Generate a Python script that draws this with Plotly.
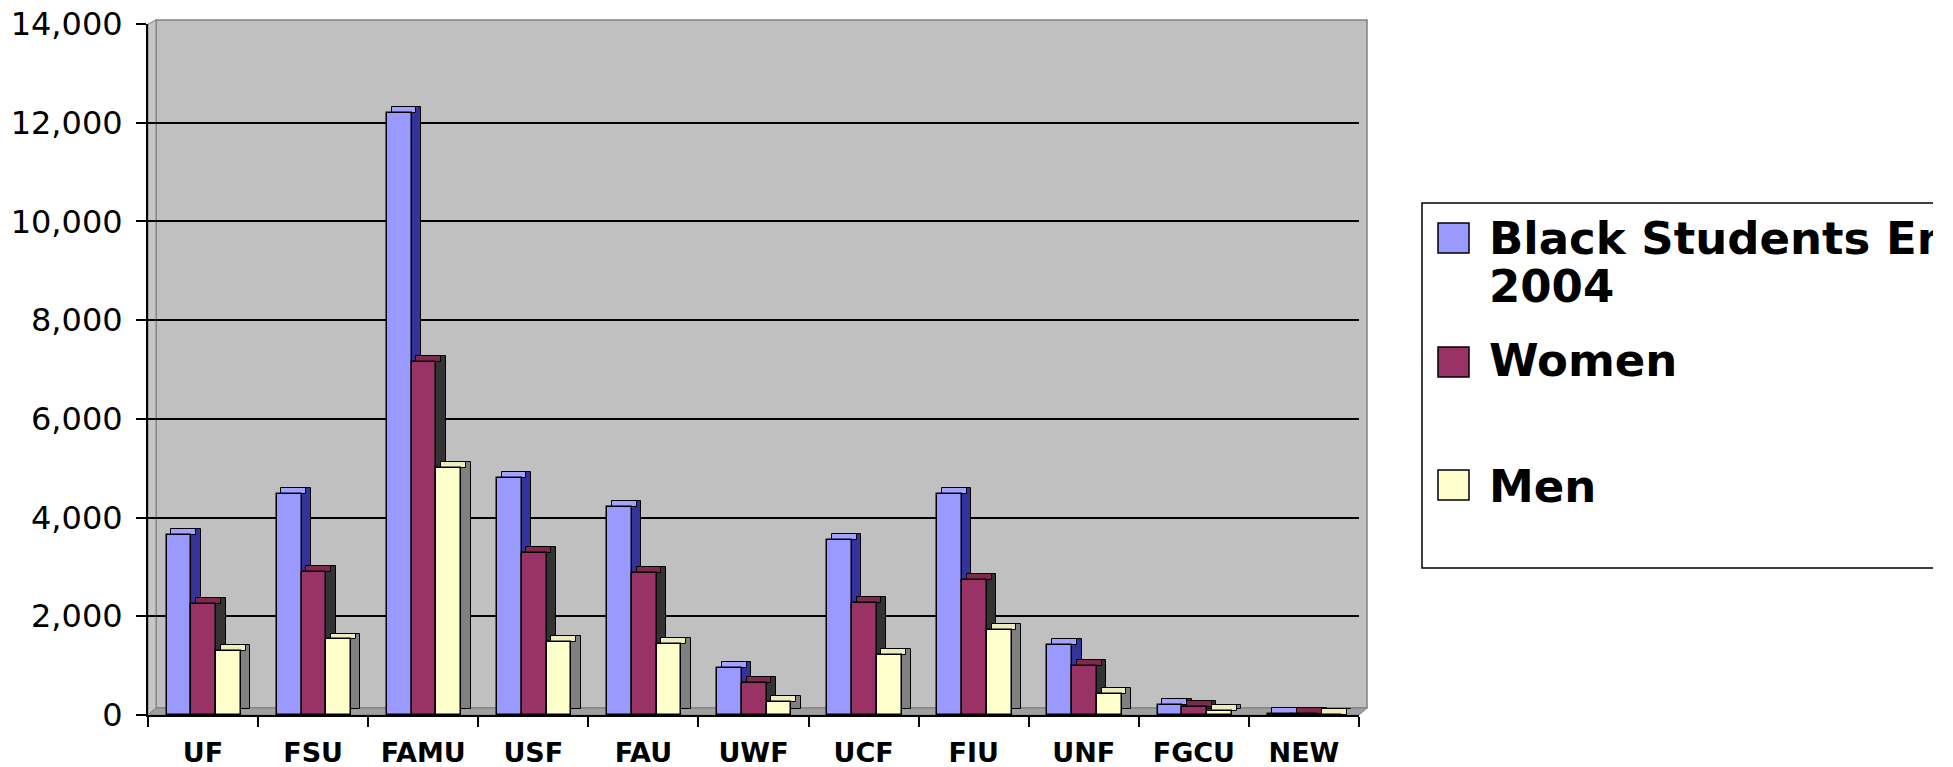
import plotly.graph_objects as go

# ---- data ----
campuses = ["UF", "FSU", "FAMU", "USF", "FAU", "UWF", "UCF", "FIU", "UNF", "FGCU", "NEW"]
black_students_2004 = [3650, 4480, 12200, 4800, 4210, 950, 3540, 4470, 1420, 200, 20]
women = [2250, 2900, 7150, 3280, 2870, 650, 2270, 2730, 1000, 170, 12]
men = [1300, 1530, 5000, 1480, 1440, 270, 1220, 1720, 430, 90, 8]
series_names = ["Black Students Enrolled", "Women", "Men"]
y_ticks = [0, 2000, 4000, 6000, 8000, 10000, 12000, 14000]

# ---- layout geometry (pixels, in reference-image coordinates) ----
OFF = 8                    # page body margin added by the browser
W, H = 1933 - OFF, 767 - OFF
L, R = 148, 1359           # plot area left / right
T, B = 24, 715             # plot area top / bottom
PW, PH = R - L, B - T

def xp(px):
    return (px - L) / PW

def yp(py):
    return (B - py) / PH

# 3D look parameters
bar_w = 0.225
offsets = [-0.33, -0.105, 0.12]
dx = 0.085                     # depth in category units
dy = 120                       # depth in value units
front_cols = ["#9999FF", "#993366", "#FFFFCC"]
side_cols = ["#333399", "#333333", "#808080"]
top_cols = ["#A3A3FF", "#80294F", "#EDEDC0"]
values = [black_students_2004, women, men]

fig = go.Figure()
n = len(campuses)
for vals, o, fc, sc, tc, name in zip(values, offsets, front_cols, side_cols, top_cols, series_names):
    # side face
    fig.add_trace(go.Bar(x=campuses, y=vals, base=[dy] * n, offset=o + bar_w, width=dx,
                         marker=dict(color=sc, line=dict(color="black", width=1)),
                         showlegend=False, hoverinfo="skip"))
    # top face
    fig.add_trace(go.Bar(x=campuses, y=[dy] * n, base=vals, offset=o + dx / 2, width=bar_w,
                         marker=dict(color=tc, line=dict(color="black", width=1)),
                         showlegend=False, hoverinfo="skip"))
    # front face
    fig.add_trace(go.Bar(x=campuses, y=vals, offset=o, width=bar_w, name=name,
                         marker=dict(color=fc, line=dict(color="black", width=1.5)),
                         showlegend=False))

shapes = []
# back wall
shapes.append(dict(type="rect", xref="paper", yref="paper", layer="below",
                   x0=xp(156), x1=xp(1367), y0=yp(708), y1=yp(20),
                   fillcolor="#C0C0C0", line=dict(color="#808080", width=1.5)))
# left side wall
shapes.append(dict(type="path", xref="paper", yref="paper", layer="below",
                   path=f"M {xp(148)},{yp(715)} L {xp(156)},{yp(708)} L {xp(156)},{yp(20)} L {xp(148)},{yp(24)} Z",
                   fillcolor="#C6C6C6", line=dict(color="#808080", width=1)))
# floor
shapes.append(dict(type="path", xref="paper", yref="paper", layer="below",
                   path=f"M {xp(148)},{yp(715)} L {xp(1359)},{yp(715)} L {xp(1367)},{yp(708)} L {xp(156)},{yp(708)} Z",
                   fillcolor="#A0A0A0", line=dict(color="#808080", width=1)))

# legend box
shapes.append(dict(type="rect", xref="paper", yref="paper",
                   x0=xp(1422), x1=xp(1960), y0=yp(568), y1=yp(203),
                   fillcolor="white", line=dict(color="black", width=1.5), layer="below"))
legend_rows = [238, 362, 485]
for cy, fc in zip(legend_rows, front_cols):
    shapes.append(dict(type="rect", xref="paper", yref="paper",
                       x0=xp(1438), x1=xp(1469), y0=yp(cy + 15), y1=yp(cy - 15),
                       fillcolor=fc, line=dict(color="black", width=1.5)))

lfont = dict(family="DejaVu Sans", size=45, color="black")
annotations = [
    dict(text="<b>Black Students Enrolled</b>", x=xp(1487), y=yp(238), xref="paper", yref="paper",
         xanchor="left", yanchor="middle", showarrow=False, font=lfont),
    dict(text="<b>2004</b>", x=xp(1487), y=yp(286), xref="paper", yref="paper",
         xanchor="left", yanchor="middle", showarrow=False, font=lfont),
    dict(text="<b>Women</b>", x=xp(1487), y=yp(361), xref="paper", yref="paper",
         xanchor="left", yanchor="middle", showarrow=False, font=lfont),
    dict(text="<b>Men</b>", x=xp(1487), y=yp(486), xref="paper", yref="paper",
         xanchor="left", yanchor="middle", showarrow=False, font=lfont),
]

fig.update_layout(
    width=W, height=H,
    margin=dict(l=L - OFF, r=W - (R - OFF), t=T - OFF, b=H - (B - OFF), pad=0),
    paper_bgcolor="white", plot_bgcolor="rgba(0,0,0,0)",
    barmode="overlay", bargap=0,
    showlegend=False,
    shapes=shapes, annotations=annotations,
    font=dict(family="DejaVu Sans", color="black"),
)
fig.update_xaxes(type="category", categoryorder="array", categoryarray=campuses,
                 range=[-0.5, n - 0.5], tickson="boundaries", ticks="outside", ticklen=10,
                 tickwidth=2, tickcolor="black", showline=True, linecolor="black", linewidth=2,
                 showgrid=False, automargin=False, ticklabeloverflow="allow",
                 tickfont=dict(family="DejaVu Sans", size=27, color="black", weight="bold"),
                 ticklabelstandoff=13)
fig.update_yaxes(range=[0, 14000], tickvals=y_ticks, tickformat=",", ticks="outside", ticklen=10,
                 tickwidth=2, tickcolor="black", showline=True, linecolor="black", linewidth=2,
                 showgrid=True, gridcolor="black", gridwidth=2, zeroline=False,
                 automargin=False, ticklabeloverflow="allow",
                 tickfont=dict(family="DejaVu Sans", size=32, color="black"),
                 ticklabelstandoff=7)

fig.write_html("out.html")
